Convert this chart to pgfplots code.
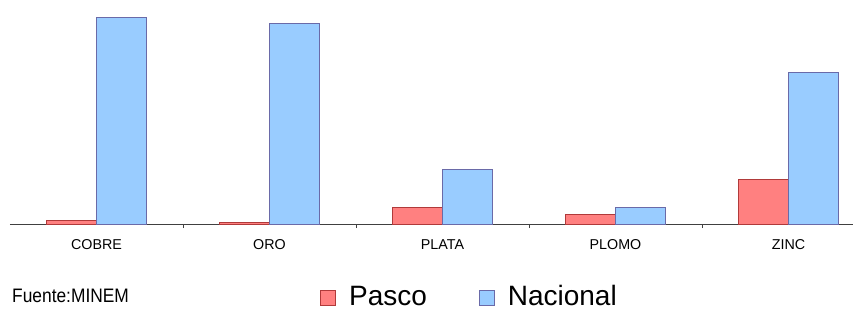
\documentclass[border=0pt]{standalone}
\usepackage{pgfplots}
\pgfplotsset{compat=1.18}
\usepackage{fontspec}
\setmainfont{Liberation Sans}
\definecolor{pascofill}{HTML}{FF8080}
\definecolor{pascoedge}{HTML}{B03A3A}
\definecolor{nacfill}{HTML}{99CCFF}
\definecolor{nacedge}{HTML}{6A6AA8}
\begin{document}
\begin{tikzpicture}[x=1pt,y=1pt]
\path[use as bounding box] (-10,-87) rectangle (843,224);
\begin{axis}[
  at={(0,0)}, anchor=south west,
  scale only axis, width=843pt, height=214pt,
  ybar=0pt, bar width=50pt,
  xmin=-0.5, xmax=4.373, ymin=0, ymax=214,
  axis x line*=bottom, axis y line=none,
  x axis line style={draw=black!75, line width=0.8pt, -},
  xtick=data,
  xticklabels={COBRE,ORO,PLATA,PLOMO,ZINC},
  xticklabel style={font=\fontsize{14.3}{16}\selectfont, anchor=base, yshift=-25pt},
  major tick length=0pt,
  extra x ticks={0.5,1.5,2.5,3.5},
  extra x tick labels={},
  extra x tick style={major tick length=4pt, tick style={draw=black!75, line width=0.8pt}, tickpos=left, tick align=outside},
  legend columns=2,
  legend style={draw=none, fill=none, at={(0.368,-0.339)}, anchor=west,
    font=\fontsize{28}{30}\selectfont, inner sep=0pt,
    /tikz/every even column/.append style={column sep=50pt}},
  legend image code/.code={\draw[#1, line width=0.8pt] (0pt,-9pt) rectangle (15pt,6pt);},
  clip=false,
]
\addplot[fill=pascofill, draw=pascoedge, line width=0.8pt] coordinates {(0,4) (1,2) (2,17) (3,10) (4,45)};
\addplot[fill=nacfill, draw=nacedge, line width=0.8pt] coordinates {(0,207) (1,201) (2,55) (3,17) (4,152)};
\legend{\hspace{11pt}Pasco,\hspace{11pt}Nacional}
\end{axis}
\node[anchor=base west, inner sep=0pt, font=\fontsize{19.5}{21}\selectfont] at (2,-78) {\scalebox{0.89}[1]{Fuente:MINEM}};
\end{tikzpicture}
\end{document}
